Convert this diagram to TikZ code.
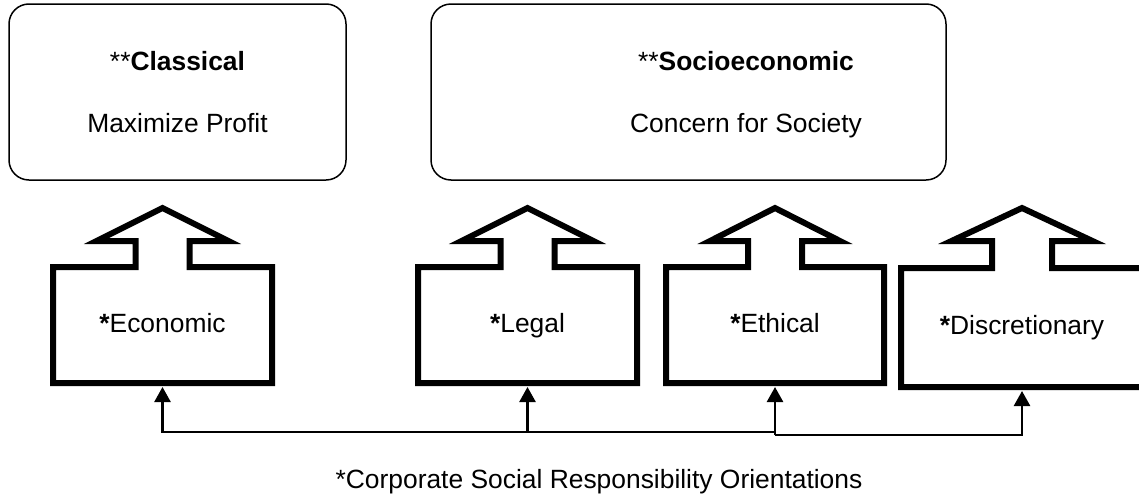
\documentclass[tikz,border=0pt]{standalone}
\usepackage{fontspec}
\setmainfont{Liberation Sans}
\usepackage{tikz}
\usetikzlibrary{arrows.meta, calc}

\begin{document}
\begin{tikzpicture}[x=1pt, y=-1pt,
  every node/.style={font=\fontsize{26.4}{32}\selectfont},
  viewbox/.style={rectangle, rounded corners=20pt, draw, line width=1.5pt, minimum height=176pt},
  orientbox/.style={rectangle, draw=none, outer sep=0pt, minimum width=219pt, minimum height=116pt,
    text height=19pt, text depth=5pt},
  outline/.style={line width=6pt, line join=miter},
  link/.style={-{Triangle[length=15pt, width=16pt]}, line width=2.5pt, shorten >=4pt}
]
\useasboundingbox (0,0) rectangle (1139,498);

% the two views
\node[viewbox, minimum width=337pt] (classical) at (177.5,92) {};
\node[align=center] (classtxt) at (177.5,92) {**\textbf{Classical}\\[30pt]Maximize Profit};
\node[viewbox, minimum width=515pt] (socio) at (688.5,92) {};
\node[align=center] (sociotxt) at (746,95) {**\textbf{Socioeconomic}\\[30pt]Concern for Society};

% the four orientations, each a box with an arrow on top
\node[orientbox] (econ) at (162.5,325) {\textbf{*}Economic};
\node[orientbox] (legal) at (527.5,325) {\textbf{*}Legal};
\node[orientbox, minimum width=218pt] (ethic) at (775,325) {\textbf{*}Ethical};
\node[orientbox, minimum width=242pt, minimum height=119pt] (disc) at (1022,327.5) {\textbf{*}Discretionary};

\draw[outline] ($(econ.north)+(-27,0)$) -- (econ.north west) -- (econ.south west) -- (econ.south east)
  -- (econ.north east) -- ($(econ.north)+(27,0)$) -- ++(0,-26) -- ++(39,0)
  -- ($(econ.north)+(0,-59)$) -- ++(-66,33) -- ++(39,0) -- cycle;
\draw[outline] ($(legal.north)+(-27,0)$) -- (legal.north west) -- (legal.south west) -- (legal.south east)
  -- (legal.north east) -- ($(legal.north)+(27,0)$) -- ++(0,-26) -- ++(39,0)
  -- ($(legal.north)+(0,-59)$) -- ++(-66,33) -- ++(39,0) -- cycle;
\draw[outline] ($(ethic.north)+(-27,0)$) -- (ethic.north west) -- (ethic.south west) -- (ethic.south east)
  -- (ethic.north east) -- ($(ethic.north)+(27,0)$) -- ++(0,-26) -- ++(38,0)
  -- ($(ethic.north)+(0,-59)$) -- ++(-65,33) -- ++(38,0) -- cycle;
\draw[outline] ($(disc.north)+(-30,0)$) -- (disc.north west) -- (disc.south west) -- (disc.south east)
  -- (disc.north east) -- ($(disc.north)+(30,0)$) -- ++(0,-27) -- ++(40.5,0)
  -- ($(disc.north)+(0,-60)$) -- ++(-70.5,33) -- ++(40.5,0) -- cycle;

% connectors from below
\coordinate (hubl) at (775,432);
\coordinate (hubr) at (775,435);
\draw[link] (hubl) -| (econ.south);
\draw[link] (hubl) -| (legal.south);
\draw[link] (hubr) -- (ethic.south);
\draw[link] (hubr) -| (disc.south);

\node[anchor=base] (caption) at (599,488) {*Corporate Social Responsibility Orientations};
\end{tikzpicture}
\end{document}
